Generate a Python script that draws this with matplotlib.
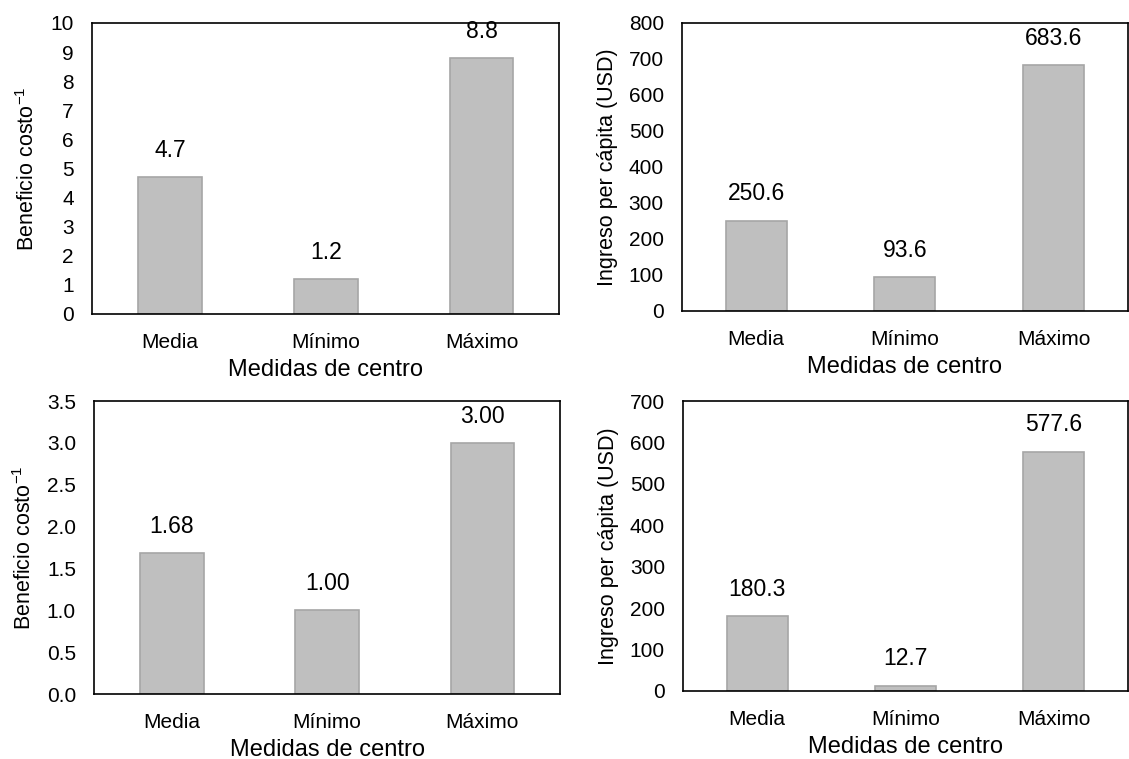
import numpy as np
import matplotlib
matplotlib.use("Agg")
import matplotlib.pyplot as plt

plt.rcParams['font.family'] = ['Liberation Sans', 'DejaVu Sans']
plt.rcParams['mathtext.fontset'] = 'custom'
plt.rcParams['mathtext.rm'] = 'Liberation Sans'
plt.rcParams['mathtext.it'] = 'Liberation Sans'
plt.rcParams['mathtext.default'] = 'regular'

# datos
categorias = ['Media', 'Mínimo', 'Máximo']
bc_arriba = [4.7, 1.2, 8.8]
ingreso_arriba = [250.6, 93.6, 683.6]
bc_abajo = [1.68, 1.00, 3.00]
ingreso_abajo = [180.3, 12.7, 577.6]

ylabel_bc = 'Beneficio costo$^{-1}$'
ylabel_ing = 'Ingreso per cápita (USD)'
xlabel = 'Medidas de centro'

paneles = [
    # valores, ylabel, yticks, formato de etiqueta, formato de eje, posicion
    (bc_arriba, ylabel_bc, np.arange(0, 11, 1), '{:.1f}', '{:.0f}', [0.0815, 0.5863, 0.414, 0.3834]),
    (ingreso_arriba, ylabel_ing, np.arange(0, 801, 100), '{:.1f}', '{:.0f}', [0.604, 0.5903, 0.395, 0.3794]),
    (bc_abajo, ylabel_bc, np.arange(0, 3.51, 0.5), '{:.2f}', '{:.1f}', [0.0833, 0.0856, 0.4128, 0.386]),
    (ingreso_abajo, ylabel_ing, np.arange(0, 701, 100), '{:.1f}', '{:.0f}', [0.605, 0.0896, 0.394, 0.382]),
]

W, H = 11.29, 7.59
fig = plt.figure(figsize=(W, H), dpi=100)

for valores, ylab, yticks, fmt, fmt_eje, pos in paneles:
    ax = fig.add_axes(pos)
    x = np.arange(len(categorias))
    ax.bar(x, valores, width=0.41, color='#BFBFBF', edgecolor='#A6A6A6', linewidth=1.2)
    ax.set_xlim(-0.5, 2.5)
    ax.set_ylim(yticks[0], yticks[-1])
    ax.set_yticks(yticks)
    ax.set_yticklabels([fmt_eje.format(t) for t in yticks])
    ax.set_xticks(x)
    ax.set_xticklabels(categorias)
    ax.tick_params(axis='both', length=0, labelsize=15)
    ax.tick_params(axis='x', pad=13.5)
    ax.tick_params(axis='y', pad=13)
    for s in ax.spines.values():
        s.set_linewidth(1.2)
        s.set_color('black')
    ax.set_ylabel(ylab, fontsize=15.5, labelpad=8)
    ax.set_xlabel(xlabel, fontsize=17)
    # linea base del titulo del eje x a ~62 px bajo el eje
    ax.xaxis.label.set_va('baseline')
    ax.xaxis.set_label_coords(0.5, -62 / (pos[3] * H * 100))
    for xi, v in zip(x, valores):
        ax.annotate(fmt.format(v), (xi, v), xytext=(0, 11), textcoords='offset points',
                    ha='center', va='bottom', fontsize=16.5)

fig.savefig('out.png', dpi=100)
